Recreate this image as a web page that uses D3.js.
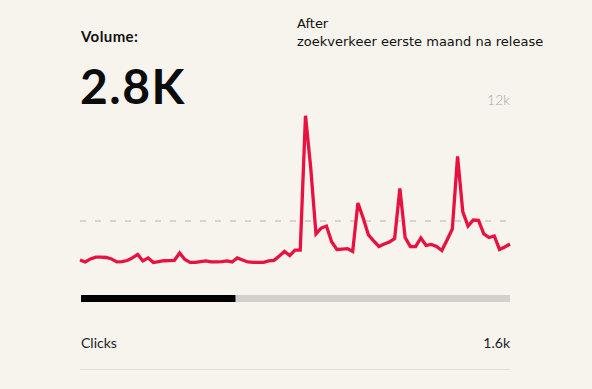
<!DOCTYPE html>
<html>
<head>
<meta charset="utf-8">
<script src="https://cdn.jsdelivr.net/npm/d3@7"></script>
<style>
  html, body { margin: 0; padding: 0; background: #f7f4ee; }
  svg { display: block; }
</style>
</head>
<body>
<div id="chart"></div>
<script>
// Data
const volumeLabel = "Volume:";
const volumeValue = "2.8K";
const annotationLines = ["After", "zoekverkeer eerste maand na release"];
const yMaxTick = 12000;
const gridValue = 6000;
const series = [
  4070, 3970, 4120, 4210, 4210, 4190, 4120, 3970, 3990, 4040,
  4170, 4340, 4020, 4170, 3940, 3990, 4030, 4040, 4050, 4410,
  4090, 3950, 3950, 3990, 4020, 3970, 3970, 3990, 4020, 3970,
  4170, 4070, 3970, 3950, 3950, 3950, 4020, 4050, 4260, 4490,
  4290, 4560, 4560, 11220, 8630, 5360, 5650, 5750, 4960, 4590,
  4610, 4630, 4490, 6890, 6150, 5310, 5010, 4740, 4860, 4960,
  5130, 7610, 5180, 4730, 4730, 5160, 4790, 4840, 4740, 4540,
  5060, 5600, 9200, 6450, 5750, 6050, 6030, 5360, 5180, 5260,
  4590, 4710, 4860
];
const progress = 0.36;
const metricName = "Clicks";
const metricValue = "1.6k";

const drawCard = () => {
  const root = d3.select("#chart");
  root.selectAll("*").remove();

  const W = 592, H = 389;
  const left = 80, right = 510;

  const svg = root.append("svg")
    .attr("width", W)
    .attr("height", H);

  svg.append("rect")
    .attr("width", W)
    .attr("height", H)
    .attr("fill", "#f7f4ee");

  const font = "Lato, 'Open Sans', sans-serif";

  // Header
  svg.append("text")
    .attr("x", 81)
    .attr("y", 42)
    .attr("font-family", font)
    .attr("font-weight", 700)
    .attr("font-size", 15)
    .attr("letter-spacing", 0.4)
    .attr("fill", "#111")
    .text(volumeLabel);

  svg.append("text")
    .attr("x", 80)
    .attr("y", 104)
    .attr("font-family", font)
    .attr("font-weight", 700)
    .attr("font-size", 48)
    .attr("letter-spacing", 1.5)
    .attr("fill", "#0b0b0b")
    .text(volumeValue);

  svg.append("text")
    .attr("x", 297)
    .attr("font-family", "DejaVu Sans, sans-serif")
    .attr("font-size", 13)
    .attr("fill", "#111")
    .selectAll("tspan")
    .data(annotationLines)
    .join("tspan")
    .attr("x", 297)
    .attr("y", (d, i) => 28 + i * 18)
    .text(d => d);

  // Scales
  const x = d3.scaleLinear()
    .domain([0, series.length - 1])
    .range([left, right]);

  const y = d3.scaleLinear()
    .domain([0, yMaxTick])
    .range([342, 100]);

  // Top tick label
  svg.append("text")
    .attr("x", right)
    .attr("y", y(yMaxTick) + 5)
    .attr("text-anchor", "end")
    .attr("font-family", font)
    .attr("font-weight", 300)
    .attr("font-size", 14)
    .attr("fill", "#aaa7a2")
    .text(d3.format(".2s")(yMaxTick));

  // Dashed gridline
  svg.append("line")
    .attr("x1", left)
    .attr("x2", right)
    .attr("y1", y(gridValue))
    .attr("y2", y(gridValue))
    .attr("stroke", "#d6d3ce")
    .attr("stroke-width", 2)
    .attr("stroke-dasharray", "6 9");

  // Line
  const line = d3.line()
    .x((d, i) => x(i))
    .y(d => y(d));

  svg.append("path")
    .datum(series)
    .attr("fill", "none")
    .attr("stroke", "#e8113f")
    .attr("stroke-width", 3.3)
    .attr("stroke-linejoin", "miter")
    .attr("d", line);

  // Progress bar
  const p = d3.scaleLinear().domain([0, 1]).range([left + 1, right]);
  svg.append("rect")
    .attr("x", p(0))
    .attr("y", 295)
    .attr("width", p(1) - p(0))
    .attr("height", 7)
    .attr("fill", "#d3d0cb");
  svg.append("rect")
    .attr("x", p(0))
    .attr("y", 295)
    .attr("width", p(progress) - p(0))
    .attr("height", 7)
    .attr("fill", "#000");

  // Footer metric
  svg.append("text")
    .attr("x", 81)
    .attr("y", 348)
    .attr("font-family", font)
    .attr("font-size", 14)
    .attr("fill", "#222")
    .text(metricName);

  svg.append("text")
    .attr("x", right)
    .attr("y", 348)
    .attr("text-anchor", "end")
    .attr("font-family", font)
    .attr("font-size", 14)
    .attr("fill", "#222")
    .text(metricValue);

  svg.append("line")
    .attr("x1", left)
    .attr("x2", right)
    .attr("y1", 369.5)
    .attr("y2", 369.5)
    .attr("stroke", "#e3e0da")
    .attr("stroke-width", 1);
};

drawCard();
</script>
</body>
</html>
